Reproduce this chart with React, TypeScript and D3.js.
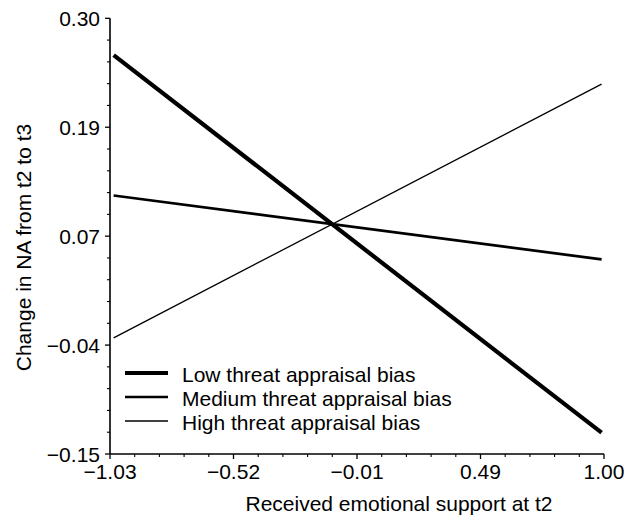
import React from "react";
import * as d3 from "d3";

const W = 631;
const H = 518;

const xTickValues = [-1.03, -0.5225, -0.015, 0.4925, 1.0];
const xTickLabels = ["\u22121.03", "\u22120.52", "\u22120.01", "0.49", "1.00"];
const yTickValues = [0.3, 0.1875, 0.075, -0.0375, -0.15];
const yTickLabels = ["0.30", "0.19", "0.07", "\u22120.04", "\u22120.15"];

const xEnds = [-1.015, 0.99];
const lowValues = [0.262, -0.128];
const mediumValues = [0.117, 0.051];
const highValues = [-0.03, 0.232];

const seriesNames = [
  "Low threat appraisal bias",
  "Medium threat appraisal bias",
  "High threat appraisal bias",
];
const seriesValues = [lowValues, mediumValues, highValues];
const seriesWidths = [4.2, 2.7, 1.3];

const xTitle = "Received emotional support at t2";
const yTitle = "Change in NA from t2 to t3";

const FONT = "'Liberation Sans', Arial, Helvetica, sans-serif";
const FS = 21;

export default function App() {
  const x = d3.scaleLinear().domain([-1.03, 1.0]).range([110, 604]);
  const y = d3.scaleLinear().domain([-0.15, 0.3]).range([454, 18.3]);

  const line = d3
    .line<[number, number]>()
    .x((d) => x(d[0]))
    .y((d) => y(d[1]));

  // minor ticks: 4 between majors
  const xMinor: number[] = [];
  for (let i = 0; i < xTickValues.length - 1; i++) {
    const a = xTickValues[i];
    const b = xTickValues[i + 1];
    for (let k = 1; k < 5; k++) xMinor.push(a + ((b - a) * k) / 5);
  }
  const yMinor: number[] = [];
  for (let i = 0; i < yTickValues.length - 1; i++) {
    const a = yTickValues[i];
    const b = yTickValues[i + 1];
    for (let k = 1; k < 5; k++) yMinor.push(a + ((b - a) * k) / 5);
  }

  const x0 = x.range()[0];
  const x1 = x.range()[1];
  const y0 = y.range()[0];
  const y1 = y.range()[1];

  return (
    <svg
      width={W}
      height={H}
      style={{ position: "fixed", left: 0, top: 0, background: "#fff" }}
      fontFamily={FONT}
    >
      <rect x={0} y={0} width={W} height={H} fill="#fff" />
      {/* axes */}
      <line x1={x0} x2={x0} y1={y1} y2={y0} stroke="#000" strokeWidth={1.6} />
      <line x1={x0} x2={x1} y1={y0} y2={y0} stroke="#000" strokeWidth={1.6} />
      {yTickValues.map((v, i) => (
        <g key={"yt" + i}>
          <line x1={x0 - 5} x2={x0} y1={y(v)} y2={y(v)} stroke="#000" strokeWidth={1.3} />
          <text x={100} y={y(v) + 7.5} textAnchor="end" fontSize={FS}>
            {yTickLabels[i]}
          </text>
        </g>
      ))}
      {yMinor.map((v, i) => (
        <line key={"ym" + i} x1={x0 - 3} x2={x0} y1={y(v)} y2={y(v)} stroke="#000" strokeWidth={1.1} />
      ))}
      {xTickValues.map((v, i) => (
        <g key={"xt" + i}>
          <line x1={x(v)} x2={x(v)} y1={y0} y2={y0 + 5} stroke="#000" strokeWidth={1.3} />
          <text x={x(v)} y={479} textAnchor="middle" fontSize={FS}>
            {xTickLabels[i]}
          </text>
        </g>
      ))}
      {xMinor.map((v, i) => (
        <line key={"xm" + i} x1={x(v)} x2={x(v)} y1={y0} y2={y0 + 3} stroke="#000" strokeWidth={1.1} />
      ))}

      {/* lines */}
      {seriesValues.map((vals, i) => (
        <path
          key={"s" + i}
          d={line(xEnds.map((xv, j) => [xv, vals[j]] as [number, number])) || ""}
          fill="none"
          stroke="#000"
          strokeWidth={seriesWidths[i]}
        />
      ))}

      {/* legend */}
      {seriesNames.map((name, i) => (
        <g key={"lg" + i}>
          <line x1={125} x2={168} y1={373 + i * 24} y2={373 + i * 24} stroke="#000" strokeWidth={seriesWidths[i]} />
          <text x={182} y={382 + i * 24} fontSize={FS}>
            {name}
          </text>
        </g>
      ))}

      {/* titles */}
      <text x={399} y={511} textAnchor="middle" fontSize={FS}>
        {xTitle}
      </text>
      <text transform="translate(31,247.5) rotate(-90)" textAnchor="middle" fontSize={FS}>
        {yTitle}
      </text>
    </svg>
  );
}
